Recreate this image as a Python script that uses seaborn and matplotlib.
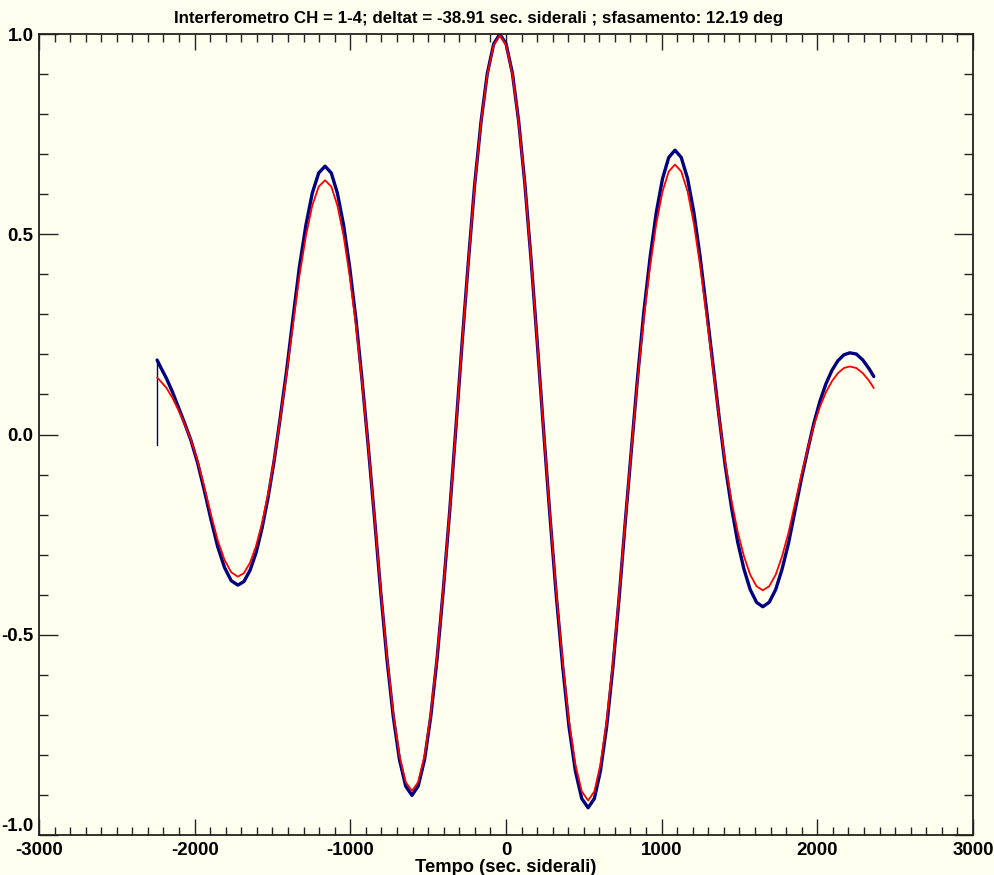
import numpy as np
import pandas as pd
import matplotlib
matplotlib.use("Agg")
import matplotlib.pyplot as plt
import seaborn as sns
from matplotlib.ticker import MultipleLocator, FormatStrFormatter

sns.set_style("ticks")
plt.rcParams['font.family'] = ['Liberation Sans', 'DejaVu Sans']
plt.rcParams['axes.unicode_minus'] = False
for k in ['text.color', 'axes.labelcolor', 'xtick.color', 'ytick.color']:
    plt.rcParams[k] = 'black'

# tempo (sec. siderali)
tempo = [-2241, -2221, -2182, -2143, -2104, -2064, -2025,
         -1982, -1938, -1895, -1852, -1808, -1765, -1722,
         -1683, -1644, -1605, -1567, -1528, -1489, -1450,
         -1409, -1368, -1327, -1285, -1244, -1203, -1162,
         -1122, -1083, -1043, -1004, -964, -925, -885,
         -845, -805, -764, -724, -684, -644, -604,
         -564, -523, -483, -443, -403, -362, -322,
         -282, -241, -201, -160, -120, -79, -39,
         1, 42, 82, 122, 162, 202, 242,
         283, 324, 365, 405, 446, 487, 528,
         568, 607, 647, 687, 727, 766, 806,
         846, 886, 926, 966, 1006, 1046, 1086,
         1126, 1167, 1207, 1247, 1287, 1328, 1368,
         1408, 1449, 1489, 1529, 1569, 1610, 1650,
         1691, 1733, 1774, 1816, 1857, 1899, 1940,
         1978, 2017, 2055, 2094, 2132, 2171, 2209,
         2251, 2293, 2335, 2363]

# curva di fit (rosso)
fit = [0.142, 0.134, 0.117, 0.092, 0.061, 0.026, -0.012,
       -0.065, -0.131, -0.200, -0.264, -0.313, -0.344, -0.355,
       -0.346, -0.320, -0.278, -0.221, -0.148, -0.061, 0.040,
       0.152, 0.276, 0.396, 0.496, 0.572, 0.619, 0.635,
       0.619, 0.572, 0.496, 0.396, 0.274, 0.132, -0.028,
       -0.204, -0.386, -0.555, -0.696, -0.802, -0.868, -0.890,
       -0.868, -0.802, -0.696, -0.555, -0.385, -0.193, 0.014,
       0.226, 0.433, 0.622, 0.779, 0.898, 0.972, 0.997,
       0.972, 0.898, 0.779, 0.622, 0.433, 0.224, 0.009,
       -0.201, -0.397, -0.570, -0.715, -0.824, -0.891, -0.914,
       -0.891, -0.824, -0.715, -0.570, -0.400, -0.217, -0.036,
       0.137, 0.292, 0.420, 0.527, 0.607, 0.657, 0.674,
       0.657, 0.607, 0.527, 0.423, 0.301, 0.172, 0.046,
       -0.069, -0.165, -0.243, -0.304, -0.350, -0.379, -0.389,
       -0.379, -0.350, -0.304, -0.244, -0.172, -0.099, -0.033,
       0.023, 0.069, 0.105, 0.133, 0.153, 0.166, 0.170,
       0.166, 0.153, 0.133, 0.116]

# dati misurati (blu)
dati = [0.186, 0.170, 0.141, 0.107, 0.068, 0.028, -0.013,
        -0.069, -0.139, -0.212, -0.280, -0.332, -0.365, -0.376,
        -0.367, -0.339, -0.295, -0.234, -0.157, -0.065, 0.042,
        0.160, 0.291, 0.418, 0.523, 0.603, 0.653, 0.670,
        0.653, 0.603, 0.523, 0.418, 0.289, 0.139, -0.028,
        -0.206, -0.391, -0.562, -0.704, -0.812, -0.878, -0.901,
        -0.878, -0.812, -0.704, -0.562, -0.390, -0.195, 0.014,
        0.227, 0.434, 0.624, 0.781, 0.901, 0.975, 1.000,
        0.975, 0.901, 0.781, 0.624, 0.434, 0.225, 0.009,
        -0.205, -0.405, -0.581, -0.729, -0.840, -0.909, -0.932,
        -0.909, -0.840, -0.729, -0.581, -0.408, -0.221, -0.037,
        0.144, 0.307, 0.442, 0.555, 0.639, 0.692, 0.710,
        0.692, 0.639, 0.555, 0.445, 0.317, 0.181, 0.048,
        -0.076, -0.182, -0.269, -0.336, -0.387, -0.419, -0.430,
        -0.419, -0.387, -0.336, -0.270, -0.190, -0.109, -0.036,
        0.028, 0.083, 0.126, 0.160, 0.184, 0.199, 0.204,
        0.201, 0.186, 0.163, 0.145]

# primo campione dei dati (salto verticale iniziale)
dati_t0 = -2241
dati_y0 = -0.025

titolo = "Interferometro CH = 1-4; deltat = -38.91 sec. siderali ; sfasamento: 12.19 deg"

bg = '#FFFFF0'
fig = plt.figure(figsize=(9.94, 8.75), dpi=100, facecolor=bg)
ax = fig.add_axes([0.0392, 0.0457, 0.9396, 0.9154])
ax.set_facecolor(bg)

df_salto = pd.DataFrame({'tempo': [dati_t0, tempo[0]], 'segnale': [dati_y0, dati[0]]})
df_dati = pd.DataFrame({'tempo': tempo, 'segnale': dati})
df_fit = pd.DataFrame({'tempo': tempo, 'segnale': fit})

sns.lineplot(data=df_salto, x='tempo', y='segnale', ax=ax, color='#000080',
             lw=1.0, estimator=None, sort=False)
sns.lineplot(data=df_dati, x='tempo', y='segnale', ax=ax, color='#000080',
             lw=2.4, estimator=None, sort=False, solid_joinstyle='round')
sns.lineplot(data=df_fit, x='tempo', y='segnale', ax=ax, color='#FF0000',
             lw=1.3, estimator=None, sort=False, solid_joinstyle='round')

ax.set_xlim(-3000, 3000)
ax.set_ylim(-1, 1)
ax.xaxis.set_major_locator(MultipleLocator(1000))
ax.xaxis.set_minor_locator(MultipleLocator(100))
ax.yaxis.set_major_locator(MultipleLocator(0.5))
ax.yaxis.set_minor_locator(MultipleLocator(0.1))
ax.yaxis.set_major_formatter(FormatStrFormatter('%.1f'))

for s in ax.spines.values():
    s.set_color('#222222')
    s.set_linewidth(1.3)

ax.tick_params(which='both', direction='in', top=True, right=True,
               color='#222222', width=1.0)
ax.tick_params(axis='x', which='major', length=11.5, pad=5)
ax.tick_params(axis='x', which='minor', length=5.8)
ax.tick_params(axis='y', which='major', length=13.5, pad=4)
ax.tick_params(axis='y', which='minor', length=6.7)
for lab in ax.get_xticklabels() + ax.get_yticklabels():
    lab.set_fontsize(13.5)
    lab.set_fontweight('bold')

fig.text(479 / 994, 1 - 19 / 875, titolo, fontsize=12.2, fontweight='bold',
         ha='center', va='center')
ax.set_xlabel('Tempo (sec. siderali)', fontsize=13.2, fontweight='bold', labelpad=0)
ax.set_ylabel('')

# the -1.0 label sits just above the bottom axis, as in the original
fig.canvas.draw()
for t in ax.yaxis.get_major_ticks():
    if abs(t.get_loc() + 1.0) < 1e-9:
        t.label1.set_va('bottom')

fig.savefig('out.png', dpi=100, facecolor=bg)
